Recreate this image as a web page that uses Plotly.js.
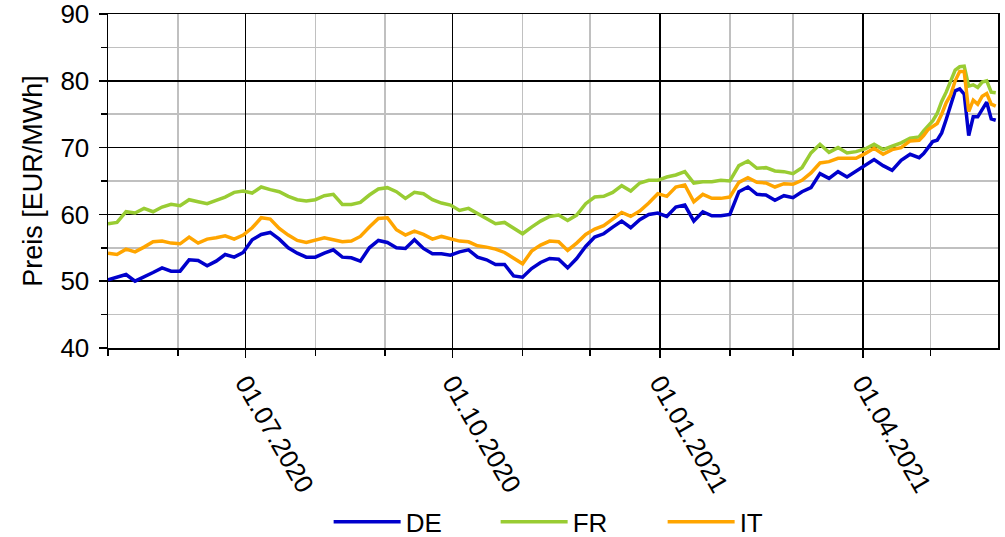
<!DOCTYPE html>
<html>
<head>
<meta charset="utf-8">
<script src="https://cdn.plot.ly/plotly-3.0.1.min.js"></script>
<style>
  html, body { margin: 0; padding: 0; background: #ffffff; }
  #chart { width: 1005px; height: 537px; }
</style>
</head>
<body>
<div id="chart"></div>
<script>
const dates = [
  "2020-05-01","2020-05-05","2020-05-09","2020-05-13","2020-05-17","2020-05-21","2020-05-25","2020-05-29","2020-06-02","2020-06-06",
  "2020-06-10","2020-06-14","2020-06-18","2020-06-22","2020-06-26","2020-06-30","2020-07-04","2020-07-08","2020-07-12","2020-07-16",
  "2020-07-20","2020-07-24","2020-07-28","2020-08-01","2020-08-05","2020-08-09","2020-08-13","2020-08-17","2020-08-21","2020-08-25",
  "2020-08-29","2020-09-02","2020-09-06","2020-09-10","2020-09-14","2020-09-18","2020-09-22","2020-09-26","2020-09-30","2020-10-04",
  "2020-10-08","2020-10-12","2020-10-16","2020-10-20","2020-10-24","2020-10-28","2020-11-01","2020-11-05","2020-11-09","2020-11-13",
  "2020-11-17","2020-11-21","2020-11-25","2020-11-29","2020-12-03","2020-12-07","2020-12-11","2020-12-15","2020-12-19","2020-12-23",
  "2020-12-27","2020-12-31","2021-01-04","2021-01-08","2021-01-12","2021-01-16","2021-01-20","2021-01-24","2021-01-28","2021-02-01",
  "2021-02-05","2021-02-09","2021-02-13","2021-02-17","2021-02-21","2021-02-25","2021-03-01","2021-03-05","2021-03-09","2021-03-13",
  "2021-03-17","2021-03-21","2021-03-25","2021-03-29","2021-04-02","2021-04-06","2021-04-10","2021-04-14","2021-04-18","2021-04-22",
  "2021-04-26","2021-04-28","2021-04-30","2021-05-02","2021-05-04","2021-05-06","2021-05-08","2021-05-10","2021-05-12","2021-05-14",
  "2021-05-16","2021-05-18","2021-05-20","2021-05-22","2021-05-24","2021-05-26","2021-05-28","2021-05-30"
];

const deValues = [
  50.2,50.6,51.0,50.0,50.6,51.3,52.0,51.5,51.5,53.2,
  53.1,52.3,53.0,54.0,53.6,54.3,56.2,57.0,57.3,56.3,
  55.0,54.2,53.6,53.6,54.2,54.7,53.6,53.5,53.0,55.0,
  56.1,55.8,55.0,54.9,56.2,54.9,54.1,54.1,53.9,54.4,
  54.7,53.6,53.2,52.5,52.5,50.8,50.6,51.9,52.8,53.4,
  53.3,52.0,53.4,55.2,56.6,57.1,58.1,59.0,58.0,59.2,
  60.0,60.2,59.7,61.1,61.4,59.0,60.4,59.8,59.8,60.0,
  63.4,64.1,63.0,62.9,62.1,62.8,62.5,63.4,64.0,66.1,
  65.4,66.4,65.6,66.5,67.4,68.2,67.3,66.6,68.1,69.0,
  68.5,69.1,70.0,70.9,71.1,72.2,74.2,76.5,78.5,78.8,
  78.0,71.8,74.6,74.6,75.8,76.8,74.3,74.1
];

const frValues = [
  58.6,58.8,60.4,60.2,60.9,60.4,61.1,61.5,61.3,62.2,
  61.9,61.6,62.1,62.6,63.3,63.5,63.2,64.1,63.7,63.4,
  62.7,62.2,62.0,62.2,62.8,63.0,61.5,61.5,61.8,62.9,
  63.8,64.0,63.4,62.4,63.3,63.1,62.2,61.7,61.4,60.6,
  60.9,60.1,59.4,58.6,58.8,57.9,57.1,58.1,59.0,59.7,
  59.9,59.1,59.9,61.6,62.6,62.7,63.3,64.3,63.5,64.7,
  65.1,65.1,65.6,65.9,66.4,64.7,64.9,64.9,65.1,65.0,
  67.3,68.0,66.9,67.0,66.5,66.4,66.1,67.0,69.2,70.5,
  69.3,70.0,69.2,69.4,69.8,70.5,69.7,70.2,70.7,71.4,
  71.6,72.5,73.3,74.0,75.1,76.9,78.3,79.8,81.6,82.1,
  82.2,79.2,79.4,79.0,79.8,80.0,78.3,78.2
];

const itValues = [
  54.2,54.0,54.8,54.4,55.1,55.9,56.0,55.7,55.6,56.6,
  55.7,56.3,56.5,56.8,56.3,56.9,58.0,59.5,59.3,57.9,
  56.9,56.1,55.8,56.1,56.5,56.2,55.9,56.0,56.7,58.1,
  59.4,59.5,57.7,56.9,57.5,57.0,56.3,56.7,56.3,56.0,
  55.9,55.3,55.1,54.8,54.3,53.5,52.6,54.5,55.4,56.0,
  55.9,54.6,55.7,57.0,57.8,58.3,59.3,60.3,59.7,60.5,
  61.7,63.1,62.7,64.1,64.4,61.9,63.0,62.4,62.4,62.6,
  64.8,65.5,64.8,64.7,64.1,64.6,64.5,65.1,66.2,67.7,
  67.9,68.4,68.4,68.4,69.1,69.9,69.0,69.7,70.0,71.0,
  71.1,71.8,72.7,73.2,73.6,75.0,76.7,77.9,80.0,81.4,
  81.4,75.4,77.1,76.5,77.7,78.1,76.5,76.2
];

const seriesNames = ["DE", "FR", "IT"];
const seriesColors = ["#0000CC", "#99CC33", "#FFA500"];
const seriesValues = [deValues, frValues, itValues];

const traces = seriesNames.map((name, i) => ({
  type: "scatter",
  mode: "lines",
  name: name,
  x: dates,
  y: seriesValues[i],
  line: { color: seriesColors[i], width: 3.5 }
}));

const layout = {
  width: 1005,
  height: 537,
  margin: { l: 108, r: 7, t: 14, b: 189, autoexpand: false },
  paper_bgcolor: "#ffffff",
  plot_bgcolor: "#ffffff",
  font: { family: "Liberation Sans, Arial, sans-serif", size: 26, color: "#000000" },
  showlegend: true,
  legend: {
    orientation: "h",
    xref: "container",
    yref: "container",
    x: 0.327, xanchor: "left",
    y: 0.028, yanchor: "middle",
    font: { size: 26 },
    itemwidth: 67,
    entrywidth: 85,
    tracegroupgap: 0,
    bgcolor: "rgba(0,0,0,0)"
  },
  xaxis: {
    type: "date",
    automargin: false,
    range: ["2020-05-01", "2021-05-31"],
    tickmode: "linear",
    tick0: "2020-07-01",
    dtick: "M3",
    tickformat: "%d.%m.%Y",
    tickangle: 60,
    ticks: "outside",
    ticklen: 8,
    tickcolor: "#000000",
    tickwidth: 1.5,
    showgrid: true,
    gridcolor: "#000000",
    gridwidth: 1.5,
    showline: true,
    linecolor: "#000000",
    linewidth: 1.5,
    mirror: true,
    zeroline: false,
    ticklabeloverflow: "allow",
    tickfont: { size: 26 },
    minor: {
      tick0: "2020-05-01",
      dtick: "M1",
      ticks: "outside",
      ticklen: 6,
      tickcolor: "#000000",
      showgrid: true,
      gridcolor: "#C0C0C0",
      gridwidth: 1.5
    }
  },
  yaxis: {
    automargin: false,
    range: [40, 90],
    tickmode: "linear",
    tick0: 40,
    dtick: 10,
    ticks: "outside",
    ticklen: 8,
    tickcolor: "#000000",
    tickwidth: 1.5,
    showgrid: true,
    gridcolor: "#000000",
    gridwidth: 1.5,
    showline: true,
    linecolor: "#000000",
    linewidth: 1.5,
    mirror: true,
    zeroline: false,
    ticklabelstandoff: 4,
    ticklabeloverflow: "allow",
    tickfont: { size: 26 },
    title: { text: "Preis [EUR/MWh]", font: { size: 27 }, standoff: 10 },
    minor: {
      dtick: 5,
      ticks: "outside",
      ticklen: 6,
      tickcolor: "#000000",
      showgrid: true,
      gridcolor: "#C0C0C0",
      gridwidth: 1.5
    }
  }
};

Plotly.newPlot("chart", traces, layout, { displayModeBar: false, staticPlot: true });
</script>
</body>
</html>
